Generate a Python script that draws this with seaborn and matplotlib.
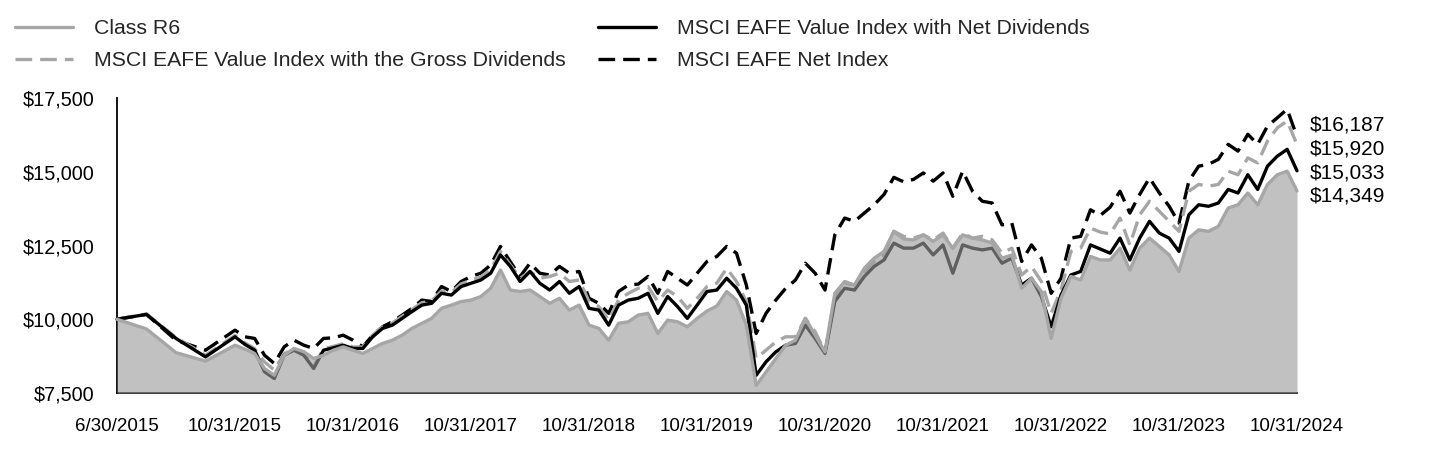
"""Growth of $10,000: Class R6 vs. MSCI EAFE benchmarks (recreated figure)."""
import matplotlib
matplotlib.use('Agg')
import matplotlib.pyplot as plt
from matplotlib.lines import Line2D
import numpy as np
import pandas as pd
import seaborn as sns

# Month-end dates, 6/30/2015 .. 10/31/2024
DATES = pd.date_range('2015-06-30', '2024-10-31', freq='ME')

CLASS_R6 = [
    10000, 9670, 8870, 8580, 9120, 8985, 8840, 8330, 8100, 8780, 9010, 8900, 8670,
    8780, 8950, 9065, 8950, 8840, 9010, 9180, 9290, 9460, 9690, 9860, 10030,
    10370, 10480, 10600, 10650, 10770, 11050, 11670, 10990, 10940, 10990, 10770, 10540,
    10710, 10310, 10480, 9800, 9690, 9290, 9860, 9915, 10140, 10200, 9520, 9970,
    9915, 9745, 10030, 10280, 10450, 10940, 10650, 9800, 7760, 8210, 8670, 9120,
    9290, 10030, 9460, 8895, 10880, 11280, 11160, 11730, 12070, 12300, 12980, 12720,
    12690, 12860, 12640, 12860, 12410, 12860, 12750, 12690, 12580, 12070, 12180, 11050,
    11390, 10940, 9350, 10710, 11450, 11330, 12130, 12010, 12010, 12410, 11670, 12410,
    12750, 12470, 12180, 11620, 12750, 13030, 12980, 13150, 13770, 13880, 14280, 13880,
    14570, 14900, 15020, 14349,
]
VALUE_NET = [
    10000, 10165, 9350, 8725, 9405, 9150, 8950, 8220, 7990, 8780, 8950, 8780, 8330,
    8950, 9030, 9120, 9010, 9010, 9405, 9690, 9800, 10030, 10260, 10480, 10540,
    10880, 10820, 11110, 11220, 11330, 11560, 12180, 11790, 11280, 11620, 11220, 10990,
    11280, 10880, 11110, 10370, 10310, 9800, 10480, 10650, 10710, 10880, 10200, 10770,
    10430, 10030, 10480, 10940, 10990, 11390, 11050, 10480, 8100, 8555, 8895, 9120,
    9180, 9800, 9350, 8840, 10600, 11050, 10990, 11450, 11790, 12010, 12580, 12410,
    12410, 12580, 12180, 12520, 11560, 12520, 12410, 12350, 12410, 11900, 12070, 11160,
    11390, 10770, 9745, 10820, 11500, 11620, 12520, 12380, 12240, 12750, 12010, 12750,
    13320, 12920, 12750, 12300, 13540, 13880, 13830, 13940, 14400, 14280, 14900, 14400,
    15190, 15530, 15760, 15033,
]
VALUE_GROSS = [
    10000, 10180, 9380, 8780, 9450, 9200, 9000, 8550, 8280, 8830, 9000, 8830, 8400,
    9000, 9080, 9170, 9060, 9060, 9460, 9750, 9870, 10100, 10330, 10560, 10620,
    10960, 10910, 11200, 11320, 11440, 11680, 12300, 11840, 11390, 11620, 11390, 11450,
    11560, 11280, 11330, 10600, 10430, 9970, 10650, 10880, 11050, 11110, 10600, 10990,
    10770, 10370, 10710, 11110, 11220, 11730, 11280, 10600, 8670, 8950, 9235, 9405,
    9405, 10030, 9575, 8895, 10710, 11220, 11160, 11620, 11960, 12180, 12980, 12810,
    12750, 12860, 12690, 12920, 12410, 12920, 12750, 12810, 12690, 12240, 12410, 11500,
    11790, 11280, 10200, 10990, 12300, 12410, 13090, 12955, 12890, 13430, 12520, 13540,
    14000, 13660, 13320, 12980, 14340, 14570, 14510, 14570, 15020, 14900, 15470, 15300,
    16040, 16490, 16720, 15920,
]
EAFE_NET = [
    10000, 10165, 9290, 8950, 9630, 9405, 9350, 8780, 8500, 9065, 9290, 9120, 9010,
    9350, 9370, 9460, 9290, 9065, 9460, 9745, 9915, 10140, 10370, 10650, 10600,
    11110, 10940, 11280, 11450, 11560, 11840, 12470, 11950, 11450, 11900, 11560, 11500,
    11790, 11560, 11620, 10710, 10540, 10200, 10940, 11160, 11190, 11450, 10880, 11620,
    11390, 11160, 11560, 11960, 12130, 12470, 12240, 11160, 9520, 10200, 10650, 11050,
    11330, 11900, 11560, 10990, 12860, 13430, 13320, 13600, 13880, 14230, 14810, 14660,
    14740, 14960, 14680, 14960, 14170, 15020, 14340, 14000, 13940, 13200, 13260, 11960,
    12520, 12070, 10880, 11390, 12750, 12810, 13710, 13520, 13800, 14340, 13600, 14230,
    14790, 14280, 13830, 13260, 14680, 15190, 15250, 15420, 15930, 15700, 16270, 15930,
    16550, 16830, 17120, 16187,
]

TICK_LABELS = ['6/30/2015', '10/31/2015', '10/31/2016', '10/31/2017', '10/31/2018',
               '10/31/2019', '10/31/2020', '10/31/2021', '10/31/2022', '10/31/2023',
               '10/31/2024']

for s in (CLASS_R6, VALUE_NET, VALUE_GROSS, EAFE_NET):
    assert len(s) == len(DATES)

# The original axis gives the first four months (to 10/31/2015) a full year's width.
months = np.arange(len(DATES))
pos = np.where(months <= 4, 3 * months, months + 8)
tick_pos = np.arange(0, 121, 12)

GRAY = '#a6a6a6'
DASH = (0, (5, 2.4))

sns.set_theme(style='white')
plt.rcParams['font.family'] = ['Liberation Sans', 'DejaVu Sans']

fig = plt.figure(figsize=(14.4, 4.68), dpi=100)
ax = fig.add_axes([117 / 1440, 1 - 393 / 468, 1180 / 1440, 295 / 468])

lw = 2.4
sns.lineplot(x=pos, y=EAFE_NET, ax=ax, color='black', lw=lw, linestyle=DASH, clip_on=False, zorder=3)
sns.lineplot(x=pos, y=VALUE_GROSS, ax=ax, color=GRAY, lw=lw, linestyle=DASH, clip_on=False, zorder=3)
sns.lineplot(x=pos, y=VALUE_NET, ax=ax, color='black', lw=lw, clip_on=False, zorder=3)
ax.fill_between(pos, 7500, CLASS_R6, color='#9c9c9c', alpha=0.62, lw=0, zorder=4)
sns.lineplot(x=pos, y=CLASS_R6, ax=ax, color=GRAY, lw=lw, clip_on=False, zorder=5)

ax.set_xlim(0, 120)
ax.set_ylim(7500, 17500)
ax.set_xticks(tick_pos)
ax.set_xticklabels(TICK_LABELS)
ax.set_yticks(np.arange(7500, 17501, 2500))
ax.yaxis.set_major_formatter(matplotlib.ticker.FuncFormatter(lambda v, _: f'${v:,.0f}'))
ax.tick_params(axis='both', length=0, labelsize=13.5, colors='black')
ax.tick_params(axis='y', pad=16, labelsize=14.3)
ax.tick_params(axis='x', pad=18)
for side in ('top', 'right'):
    ax.spines[side].set_visible(False)
for side in ('left', 'bottom'):
    ax.spines[side].set_color('black')
    ax.spines[side].set_linewidth(1.3)
ax.set_xlabel('')
ax.set_ylabel('')

# Ending-value labels, spread evenly around their mean so they do not collide.
finals = {'EAFE_NET': EAFE_NET[-1], 'VALUE_GROSS': VALUE_GROSS[-1],
          'VALUE_NET': VALUE_NET[-1], 'CLASS_R6': CLASS_R6[-1]}
vals = sorted(finals.values(), reverse=True)
step = 800
center = np.mean(vals)
for i, v in enumerate(vals):
    y = center + step * ((len(vals) - 1) / 2 - i)
    ax.annotate(f'${v:,.0f}', xy=(pos[-1], y), xytext=(9, 0), textcoords='offset points',
                ha='left', va='center', fontsize=15, color='black', annotation_clip=False)

handles = [
    Line2D([], [], color=GRAY, lw=lw),
    Line2D([], [], color=GRAY, lw=lw, linestyle=DASH),
    Line2D([], [], color='black', lw=lw),
    Line2D([], [], color='black', lw=lw, linestyle=DASH),
]
labels = ['Class R6', 'MSCI EAFE Value Index with the Gross Dividends',
          'MSCI EAFE Value Index with Net Dividends', 'MSCI EAFE Net Index']
fig.legend(handles, labels, loc='upper left', bbox_to_anchor=(15 / 1440, 1 - 19 / 468),
           ncol=2, frameon=False, fontsize=15.3, handlelength=2.73, handletextpad=1.0,
           columnspacing=1.5, labelspacing=0.62, borderpad=0, borderaxespad=0)

fig.savefig('out.png', dpi=100)
